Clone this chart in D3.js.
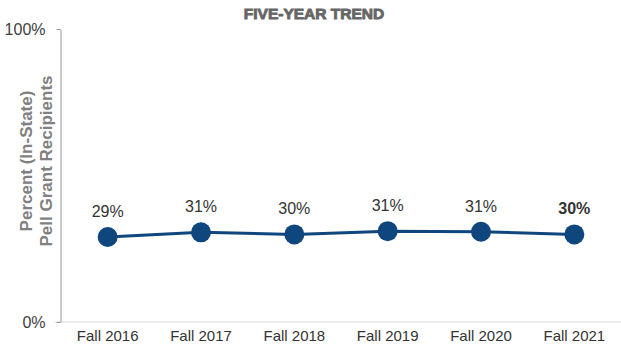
<!DOCTYPE html>
<html><head><meta charset="utf-8">
<script src="https://cdn.jsdelivr.net/npm/d3@7"></script>
<style>body{margin:0;background:#fff}svg{display:block}text{font-family:"Liberation Sans",Arial,sans-serif}</style>
</head><body><svg id="c" width="621" height="350"></svg>
<script>
const categories = ["Fall 2016","Fall 2017","Fall 2018","Fall 2019","Fall 2020","Fall 2021"];
const values = [29.0, 30.6, 29.9, 31.0, 30.8, 29.9];
const labels = ["29%","31%","30%","31%","31%","30%"];
const yTicks = [0, 100];

const svg = d3.select("#c");
const x = d3.scaleBand().domain(categories).range([61, 621]);
const y = d3.scaleLinear().domain([0, 100]).range([322, 29]);

svg.append("text").attr("x", 314).attr("y", 19).attr("text-anchor","middle")
  .attr("font-size", 15.5).attr("font-weight", "bold").attr("fill", "#666")
  .attr("stroke","#666").attr("stroke-width",0.9).text("FIVE-YEAR TREND");

svg.append("line").attr("x1", 55).attr("x2", 621).attr("y1", y(0)).attr("y2", y(0))
  .attr("stroke", "#d9d9d9").attr("stroke-width", 1);

const yAxis = d3.axisLeft(y).tickValues(yTicks).tickFormat(d => d + "%").tickSize(4).tickSizeOuter(0);
const gy = svg.append("g").attr("transform", "translate(60.5,0)").call(yAxis);
gy.select(".domain").attr("stroke", "#999");
gy.selectAll(".tick line").attr("stroke", "#999");
gy.selectAll(".tick text").attr("font-size", 16).attr("fill", "#404040").attr("x", -15)
  .attr("font-family", '"Liberation Sans",Arial,sans-serif');

const xAxis = d3.axisBottom(x).tickSize(0);
const gx = svg.append("g").attr("transform", `translate(0,${y(0)})`).call(xAxis);
gx.select(".domain").remove();
gx.selectAll(".tick text").attr("font-size", 15).attr("fill", "#333").attr("dy", "1.05em")
  .attr("font-family", '"Liberation Sans",Arial,sans-serif');

const t = svg.append("text").attr("transform", "translate(0,161) rotate(-90)")
  .attr("text-anchor", "middle").attr("font-size", 17).attr("font-weight", "bold").attr("fill", "#808080");
t.append("tspan").attr("x", 0).attr("y", 32).text("Percent (In-State)");
t.append("tspan").attr("x", 0).attr("y", 52).text("Pell Grant Recipients");

const cx = d => x(d) + x.bandwidth() / 2;
const data = categories.map((c, i) => ({c, v: values[i], l: labels[i], i}));

svg.append("path").datum(data)
  .attr("d", d3.line().x(d => cx(d.c)).y(d => y(d.v)))
  .attr("fill", "none").attr("stroke", "#0f467d").attr("stroke-width", 3);

svg.selectAll("circle.pt").data(data).join("circle").attr("class","pt")
  .attr("cx", d => cx(d.c)).attr("cy", d => y(d.v)).attr("r", 10).attr("fill", "#0f467d");

svg.selectAll("text.lbl").data(data).join("text").attr("class","lbl")
  .attr("x", d => cx(d.c)).attr("y", d => y(d.v) - 20).attr("text-anchor", "middle")
  .attr("font-size", 16).attr("fill", "#333")
  .attr("font-weight", d => d.i === data.length - 1 ? "bold" : "normal")
  .text(d => d.l);
</script></body></html>
